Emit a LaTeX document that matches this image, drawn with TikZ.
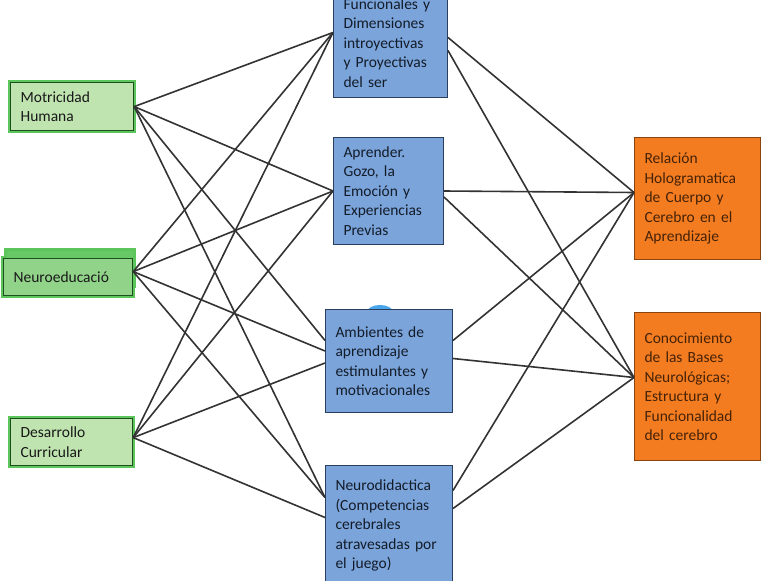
\documentclass[tikz,border=0pt]{standalone}
\usepackage{fontspec}
\setmainfont{Carlito}
\usetikzlibrary{shadows}
\definecolor{bluefill}{HTML}{7BA4DB}
\definecolor{blueline}{HTML}{2B3E5C}
\definecolor{orangefill}{HTML}{F47C20}
\definecolor{orangeline}{HTML}{8A4410}
\definecolor{greenfill}{HTML}{BFE4B0}
\definecolor{greenfilltwo}{HTML}{92D38A}
\definecolor{greenline}{HTML}{1E4F1E}
\definecolor{glowgreen}{HTML}{5CC65C}
\definecolor{bumpblue}{HTML}{4AA6EA}
\definecolor{linkgray}{HTML}{333333}
\tikzset{
  box/.style={rectangle, anchor=north west, align=left, inner xsep=10pt, inner ysep=0pt,
    font=\fontsize{15.5}{19.5}\selectfont},
  bluebox/.style={box, fill=bluefill, draw=blueline, line width=1pt, text=blueline!45!black},
  orangebox/.style={box, fill=orangefill, draw=orangeline, line width=1pt, text=orangeline!50!black},
  greenbox/.style={box, fill=greenfill, draw=greenline, line width=1.2pt, text=black!90,
    preaction={draw=glowgreen, line width=5pt}},
  link/.style={draw=linkgray, line width=1.6pt},
}
\begin{document}
\begin{tikzpicture}[x=1pt,y=-1pt]
\useasboundingbox (0,0) rectangle (766,581);
%left column
\node[greenbox, text width=103pt, minimum height=48pt] (motricidad) at (10,82) {Motricidad\\Humana};
\node[greenbox, fill=greenfilltwo, text width=109pt, minimum height=37pt,
  general shadow={fill=glowgreen!80!greenfilltwo, draw=glowgreen, line width=3pt, shadow yshift=9pt, shadow xshift=2pt}]
  (neuroedu) at (3,258) {Neuroeducació};
\node[greenbox, text width=102pt, minimum height=47pt] (desarrollo) at (10,418) {Desarrollo\\Curricular};
%middle column
\node[bluebox, text width=94pt, minimum height=109pt] (dimension) at (333,-12)
  {Funcionales y\\Dimensiones\\introyectivas\\y Proyectivas\\del ser};
\node[bluebox, text width=90pt, minimum height=107pt] (aprender) at (333,137)
  {Aprender.\\Gozo, la\\Emoción y\\Experiencias\\Previas};
\fill[bumpblue] (380,312) ellipse (13pt and 7pt);
\node[bluebox, text width=107pt, minimum height=103pt] (ambientes) at (325,309)
  {Ambientes de\\aprendizaje\\estimulantes y\\motivacionales};
\node[bluebox, text width=107pt, minimum height=120pt] (neurodid) at (325,465)
  {Neurodidactica\\(Competencias\\cerebrales\\atravesadas por\\el juego)};
%right column
\node[orangebox, text width=106pt, minimum height=122pt] (relacion) at (634,137)
  {Relación\\Hologramatica\\de Cuerpo y\\Cerebro en el\\Aprendizaje};
\node[orangebox, text width=106pt, minimum height=148pt] (conocim) at (634,312)
  {Conocimiento\\de las Bases\\Neurológicas;\\Estructura y\\Funcionalidad\\del cerebro};
%links left
\draw[link] (motricidad.east) -- ([yshift=10.5pt]dimension.west);
\draw[link] ([yshift=5.5pt]neuroedu.east) -- ([yshift=10.5pt]dimension.west);
\draw[link] ([yshift=4.5pt]desarrollo.east) -- ([yshift=10.5pt]dimension.west);
\draw[link] (motricidad.east) -- (aprender.west);
\draw[link] ([yshift=5.5pt]neuroedu.east) -- (aprender.west);
\draw[link] ([yshift=4.5pt]desarrollo.east) -- (aprender.west);
\draw[link] (motricidad.east) -- ([yshift=20.5pt]ambientes.west);
\draw[link] ([yshift=5.5pt]neuroedu.east) -- ([yshift=10pt]ambientes.west);
\draw[link] ([yshift=4.5pt]desarrollo.east) -- ([yshift=-2pt]ambientes.west);
\draw[link] (motricidad.east) -- ([yshift=28pt]neurodid.west);
\draw[link] ([yshift=5.5pt]neuroedu.east) -- ([yshift=28pt]neurodid.west);
\draw[link] ([yshift=4.5pt]desarrollo.east) -- ([yshift=8pt]neurodid.west);
%links right
\draw[link] ([yshift=5.5pt]dimension.east) -- ([yshift=6pt]relacion.west);
\draw[link] ([yshift=-7.5pt]dimension.east) -- ([yshift=9pt]conocim.west);
\draw[link] (aprender.east) -- ([yshift=6pt]relacion.west);
\draw[link] ([yshift=-6pt]aprender.east) -- ([yshift=9pt]conocim.west);
\draw[link] ([yshift=20.5pt]ambientes.east) -- ([yshift=6pt]relacion.west);
\draw[link] ([yshift=2.5pt]ambientes.east) -- ([yshift=9pt]conocim.west);
\draw[link] ([yshift=35pt]neurodid.east) -- ([yshift=6pt]relacion.west);
\draw[link] ([yshift=17pt]neurodid.east) -- ([yshift=9pt]conocim.west);
\end{tikzpicture}
\end{document}
